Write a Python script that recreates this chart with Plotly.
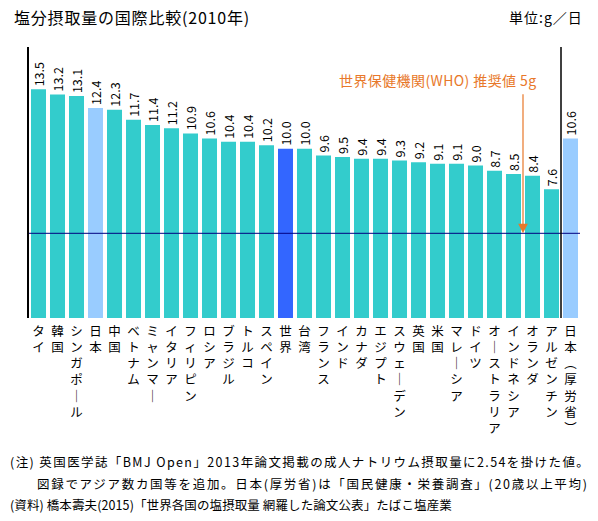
import plotly.graph_objects as go

# 塩分摂取量 (g/日), 2010年
countries = ['タイ', '韓国', 'シンガポール', '日本', '中国', 'ベトナム', 'ミャンマー',
             'イタリア', 'フィリピン', 'ロシア', 'ブラジル', 'トルコ', 'スペイン', '世界',
             '台湾', 'フランス', 'インド', 'カナダ', 'エジプト', 'スウェーデン', '英国',
             '米国', 'マレーシア', 'ドイツ', 'オーストラリア', 'インドネシア', 'オランダ',
             'アルゼンチン', '日本（厚労省）']
salt = [13.5, 13.2, 13.1, 12.4, 12.3, 11.7, 11.4, 11.2, 10.9, 10.6, 10.4, 10.4, 10.2,
        10.0, 10.0, 9.6, 9.5, 9.4, 9.4, 9.3, 9.2, 9.1, 9.1, 9.0, 8.7, 8.5, 8.4, 7.6, 10.6]
who_target = 5

TEAL = '#33CCCC'
JAPAN = '#99CCFF'
WORLD = '#3366FF'
ORANGE = '#E8782A'
FONT = 'Noto Sans CJK JP'


def bar_color(name):
    if name.startswith('日本'):
        return JAPAN
    if name == '世界':
        return WORLD
    return TEAL


def vertical(name):
    # stack characters top-to-bottom like tategaki
    swap = {'ー': '｜', '（': '︵', '）': '︶'}
    return '<br>'.join(swap.get(c, c) for c in name)


def spaced(txt, px):
    return f'<span style="letter-spacing:{px}px">{txt}</span>'


xs = list(range(len(countries)))

fig = go.Figure(go.Bar(
    x=xs,
    y=salt,
    marker_color=[bar_color(c) for c in countries],
    marker_line_width=0,
    text=[f'{v:.1f}' for v in salt],
    textposition='outside',
    textangle=-90,
    constraintext='none',
    cliponaxis=False,
    textfont=dict(family=FONT, size=12.5, color='#000000'),
    hoverinfo='skip',
))

# WHO推奨値の横線
fig.add_shape(type='line', xref='paper', yref='y', x0=0, x1=1, y0=who_target, y1=who_target,
              line=dict(color='#000080', width=1))
# 日本(厚労省)との区切り線
fig.add_shape(type='line', xref='x', yref='y', x0=len(countries) - 1.5, x1=len(countries) - 1.5,
              y0=0, y1=16, line=dict(color='#000000', width=1.5))

fig.add_annotation(x=len(countries) - 3.5, y=who_target, ax=len(countries) - 3.5, ay=13.3,
                   xref='x', yref='y', axref='x', ayref='y', text='', showarrow=True,
                   arrowhead=2, arrowsize=1.6, arrowwidth=1.2, arrowcolor=ORANGE)
fig.add_annotation(x=21, y=14.05, xref='x', yref='y', text=spaced('世界保健機関(WHO) 推奨値 5g', 0.4),
                   showarrow=False, font=dict(family=FONT, size=14, color=ORANGE))

fig.add_annotation(x=-0.031, y=1.111, xref='paper', yref='paper', xanchor='left', yanchor='middle',
                   text=spaced('塩分摂取量の国際比較(2010年)', 0.8), showarrow=False,
                   font=dict(family=FONT, size=16, color='#000000'))
fig.add_annotation(x=1.009, y=1.111, xref='paper', yref='paper', xanchor='right', yanchor='middle',
                   text=spaced('単位:g／日', 1), showarrow=False,
                   font=dict(family=FONT, size=14, color='#000000'))

notes = [
    (-0.038, -0.531, 1.4, '(注) 英国医学誌「BMJ Open」2013年論文掲載の成人ナトリウム摂取量に2.54を掛けた値。'),
    (0.011, -0.609, 1.7, '図録でアジア数カ国等を追加。日本(厚労省)は「国民健康・栄養調査」(20歳以上平均)'),
    (-0.038, -0.690, 0.1, '(資料) 橋本壽夫(2015)「世界各国の塩摂取量 網羅した論文公表」たばこ塩産業'),
]
for nx, ny, ls, txt in notes:
    fig.add_annotation(x=nx, y=ny, xref='paper', yref='paper', xanchor='left', yanchor='middle',
                       text=spaced(txt, ls), showarrow=False,
                       font=dict(family=FONT, size=12.5, color='#000000'))

fig.update_layout(
    width=598,
    height=521,
    margin=dict(l=29, r=18, t=47, b=203),
    paper_bgcolor='#FFFFFF',
    plot_bgcolor='#FFFFFF',
    bargap=0.21,
    showlegend=False,
    font=dict(family=FONT, size=12, color='#000000'),
    xaxis=dict(
        range=[-0.5, len(countries) - 0.5],
        tickmode='array',
        tickvals=xs,
        ticktext=[vertical(c) for c in countries],
        tickangle=0,
        ticks='',
        ticklabelstandoff=4,
        showgrid=False,
        zeroline=False,
        showline=False,
        tickfont=dict(family=FONT, size=12.5, color='#000000'),
    ),
    yaxis=dict(
        range=[0, 16],
        showticklabels=False,
        ticks='',
        showgrid=False,
        zeroline=False,
        showline=True,
        linecolor='#000000',
        linewidth=1.5,
    ),
)

# the page's default 8px body margin would shift the whole chart
fig.write_html('out.html', config={'displayModeBar': False},
               post_script="document.body.style.margin='0';")
